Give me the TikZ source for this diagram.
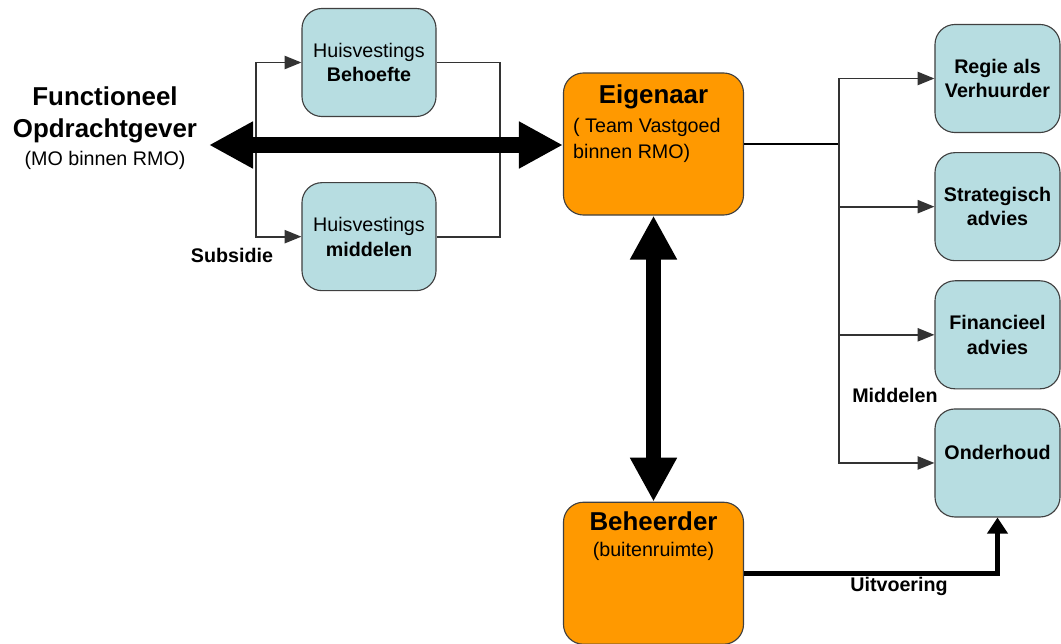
\documentclass[tikz,border=0pt]{standalone}
\usepackage{fontspec}
\setmainfont{Liberation Sans}
\usetikzlibrary{arrows.meta, positioning}
\definecolor{lichtblauw}{RGB}{183,221,225}
\definecolor{oranje}{RGB}{255,153,0}

\begin{document}
\begin{tikzpicture}
  [
  x = 0.025cm, y = -0.025cm,
  % blauw blok
  blok/.style = {rectangle, rounded corners = 5mm,
    draw = black!75, thick, fill = lichtblauw,
    minimum width = 3.35cm, minimum height = 2.7cm,
    align = center, font = \fontsize{14}{17.5}\selectfont},
  % rechter blokken
  taak/.style = {blok, minimum width = 3.125cm,
    font = \fontsize{14}{17.5}\selectfont\bfseries},
  % oranje vak
  vak/.style = {rectangle, rounded corners = 5mm,
    draw = black!75, thick, fill = oranje,
    minimum width = 4.5cm, minimum height = 3.55cm},
  tekst/.style = {font = \fontsize{14}{17}\selectfont\bfseries},
  % lijnen
  line/.style = {draw, black!80, line width = 1.2pt,
    -{Triangle[length = 4.2mm, width = 3.3mm]}},
  tak/.style = {draw, black!80, line width = 1.2pt},
  dik/.style = {draw, line width = 11pt,
    {Triangle[length = 1.1cm, width = 1.1cm]}-{Triangle[length = 1.1cm, width = 1.1cm]}},
  uit/.style = {draw, line width = 3.5pt,
    -{Triangle[length = 4mm, width = 5mm]}},
  ]
  \useasboundingbox (0,0) rectangle (1061,644);

  % nodes
  \node [align = center, font = \fontsize{18.4}{23}\selectfont\bfseries] (opdracht) at (105,128)
    {Functioneel\\Opdrachtgever\\[-3.5pt]{\fontsize{14}{17}\selectfont\mdseries (MO binnen RMO)}};
  \node [blok] (behoefte) at (369,62.5) {Huisvestings\\\textbf{Behoefte}};
  \node [blok, below = 1.625cm of behoefte] (middel) {Huisvestings\\\textbf{middelen}};
  \node [vak] (eigen) at (653.5,144) {};
  \node [vak, below = 7.15cm of eigen] (beheer) {};
  \node [taak] (regie) at (997.5,78.5) {Regie als\\Verhuurder};
  \node [taak, below = 0.475cm of regie] (strat) {Strategisch\\advies};
  \node [taak, below = 0.475cm of strat] (fin) {Financieel\\advies};
  \node [taak, below = 0.475cm of fin, text depth = 0.55cm] (onder) {Onderhoud};

  % teksten in de vakken
  \node [font = \fontsize{18.4}{22}\selectfont\bfseries, anchor = base] (eigentitel)
    at ([yshift = -7.75mm] eigen.north) {Eigenaar};
  \node [font = \fontsize{14}{17.8}\selectfont, align = left, anchor = north west, inner sep = 0pt] (eigentekst)
    at ([xshift = 2.5mm, yshift = -11.5mm] eigen.north west) {( Team Vastgoed\\binnen RMO)};
  \node [font = \fontsize{18.4}{22}\selectfont\bfseries, anchor = base] (beheertitel)
    at ([yshift = -7.25mm] beheer.north) {Beheerder};
  \node [font = \fontsize{14}{17}\selectfont, anchor = base] (beheertekst)
    at ([yshift = -13.75mm] beheer.north) {(buitenruimte)};

  % labels
  \node [tekst] (subsidie) at (232,255) {Subsidie};
  \node [tekst] (middelen) at (895,395) {Middelen};
  \node [tekst] (uitvoering) at (899,586) {Uitvoering};

  % coordinates
  \coordinate (links) at (209,145);
  \coordinate (lsplit) at (256,145);
  \coordinate (rsplit) at (500,145);
  \coordinate (stam) at (839,144);

  % path
  \path [line] (lsplit) |- (behoefte.west);
  \path [line] (lsplit) |- (middel.west);
  \path [tak] (behoefte.east) -| (rsplit) |- (middel.east);
  \path [draw, line width = 2pt] (eigen.east) -- (stam);
  \foreach \doel in {regie, strat, fin, onder}
    \path [line] (stam) |- (\doel.west);
  \path [uit] (beheer.east) -| (onder.south);
  \path [dik] (links) -- (links -| eigen.west);
  \path [dik] (eigen.south) -- (eigen.south |- beheer.north);

\end{tikzpicture}
\end{document}
